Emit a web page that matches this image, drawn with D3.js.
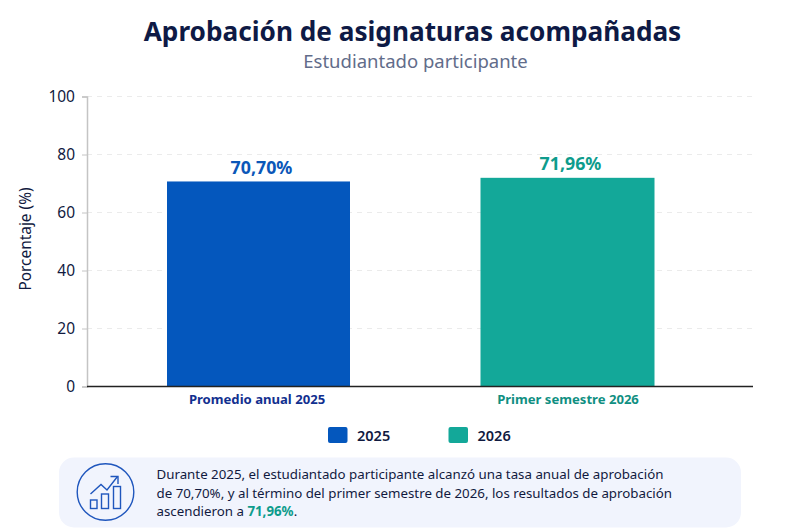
<!DOCTYPE html>
<html lang="es">
<head>
<meta charset="utf-8">
<title>Aprobación de asignaturas acompañadas</title>
<script src="https://cdn.jsdelivr.net/npm/d3@7"></script>
<style>
  html, body { margin: 0; padding: 0; background: #fff; }
  svg { display: block; font-family: "Noto Sans", sans-serif; }
</style>
</head>
<body>
<svg id="chart" width="805" height="531"></svg>
<script>
const categories = ["Promedio anual 2025", "Primer semestre 2026"];
const values = [70.70, 71.96];
const legendLabels = ["2025", "2026"];
const yTicks = [0, 20, 40, 60, 80, 100];
const noteLines = [
  [["Durante 2025, el estudiantado participante alcanzó una tasa anual de aprobación", false]],
  [["de 70,70%, y al término del primer semestre de 2026, los resultados de aprobación", false]],
  [["ascendieron a ", false], ["71,96%", true], [".", false]]
];

const barColors = ["#0457bd", "#13a899"];
const catColors = ["#12308f", "#108f82"];
const valueColors = ["#0b57b8", "#0e9c8c"];
const barWidths = [183, 174];
const ink = "#111a3f";

const svg = d3.select("#chart");
const esFormat = d3.formatLocale({ decimal: ",", thousands: ".", grouping: [3], currency: ["", "€"] }).format(".2f");

const x = d3.scaleBand().domain(categories).range([104, 722]);
const y = d3.scaleLinear().domain([0, 100]).range([386.5, 96.5]);

// title
svg.append("text")
  .attr("x", 412.5).attr("y", 40.5)
  .attr("text-anchor", "middle")
  .attr("font-size", 26.2).attr("font-weight", 700)
  .attr("fill", "#0e1a45")
  .text("Aprobación de asignaturas acompañadas");

svg.append("text")
  .attr("x", 415.5).attr("y", 68)
  .attr("text-anchor", "middle")
  .attr("font-size", 18.5)
  .attr("fill", "#626c8a")
  .text("Estudiantado participante");

// grid
svg.append("g")
  .selectAll("line")
  .data(yTicks.filter(d => d > 0))
  .join("line")
  .attr("x1", 87).attr("x2", 753)
  .attr("y1", d => y(d)).attr("y2", d => y(d))
  .attr("stroke", "#ebebeb")
  .attr("stroke-dasharray", "5 5");

// bars
svg.append("g")
  .selectAll("rect")
  .data(values)
  .join("rect")
  .attr("x", (d, i) => x(categories[i]) + x.bandwidth() / 2 - barWidths[i] / 2)
  .attr("y", d => y(d))
  .attr("width", (d, i) => barWidths[i])
  .attr("height", d => y(0) - y(d))
  .attr("fill", (d, i) => barColors[i]);

svg.append("g")
  .selectAll("text")
  .data(values)
  .join("text")
  .attr("x", (d, i) => x(categories[i]) + x.bandwidth() / 2 + 3)
  .attr("y", d => y(d) - 7.5)
  .attr("text-anchor", "middle")
  .attr("font-size", 17.8).attr("font-weight", 700)
  .attr("fill", (d, i) => valueColors[i])
  .text(d => esFormat(d) + "%");

// axes
const yAxis = svg.append("g")
  .attr("transform", "translate(87,0)")
  .call(d3.axisLeft(y).tickValues(yTicks).tickSize(5).tickPadding(7));
yAxis.select(".domain").attr("stroke", "#c4c4c4").attr("stroke-width", 1.5);
yAxis.selectAll(".tick line").attr("stroke", "#c4c4c4");
yAxis.selectAll(".tick text")
  .attr("font-family", "'Noto Sans', sans-serif")
  .attr("font-size", 15.5)
  .attr("fill", ink);

const xAxis = svg.append("g")
  .attr("transform", "translate(0,386.5)")
  .call(d3.axisBottom(x).tickSize(0).tickPadding(8));
xAxis.select(".domain").attr("d", "M87,0H753").attr("stroke", "#222").attr("stroke-width", 1.3);
xAxis.selectAll(".tick text")
  .attr("font-family", "'Noto Sans', sans-serif")
  .attr("font-size", 13.1).attr("font-weight", 700)
  .attr("dx", (d, i) => i ? 0.5 : -1.5)
  .attr("fill", (d, i) => catColors[i]);

svg.append("text")
  .attr("transform", "translate(31,239) rotate(-90)")
  .attr("text-anchor", "middle")
  .attr("font-size", 15.4)
  .attr("fill", ink)
  .text("Porcentaje (%)");

// legend
const legend = svg.append("g")
  .selectAll("g")
  .data(legendLabels)
  .join("g")
  .attr("transform", (d, i) => `translate(${328 + i * 120.5},427)`);
legend.append("rect")
  .attr("width", 19.5).attr("height", 16).attr("rx", 2)
  .attr("fill", (d, i) => barColors[i]);
legend.append("text")
  .attr("x", 29).attr("y", 13.5)
  .attr("font-size", 14.5).attr("font-weight", 600)
  .attr("fill", ink)
  .text(d => d);

// note box
svg.append("rect")
  .attr("x", 59).attr("y", 457.5)
  .attr("width", 682).attr("height", 70).attr("rx", 15)
  .attr("fill", "#f1f4fd");

const icon = svg.append("g")
  .attr("fill", "none").attr("stroke", "#1f56bd").attr("stroke-width", 1.4);
icon.append("circle").attr("cx", 105.5).attr("cy", 492).attr("r", 28.3);
icon.selectAll("rect")
  .data([[90.5, 500, 6.5, 8.5], [101.5, 494, 7, 14.5], [113.5, 486.5, 7, 22]])
  .join("rect")
  .attr("x", d => d[0]).attr("y", d => d[1])
  .attr("width", d => d[2]).attr("height", d => d[3]);
icon.append("path").attr("d", "M90.5,494 L101,484.5 L107,490 L117.5,476.5");
icon.append("path").attr("d", "M110.5,476.5 H118 V484");

svg.append("g")
  .selectAll("text")
  .data(noteLines)
  .join("text")
  .attr("x", 156.5)
  .attr("y", (d, i) => 479 + i * 18.5)
  .attr("font-size", 13.3)
  .attr("fill", ink)
  .selectAll("tspan")
  .data(d => d)
  .join("tspan")
  .attr("font-weight", d => d[1] ? 700 : 400)
  .attr("fill", d => d[1] ? "#0e9c8c" : ink)
  .text(d => d[0]);
</script>
</body>
</html>
